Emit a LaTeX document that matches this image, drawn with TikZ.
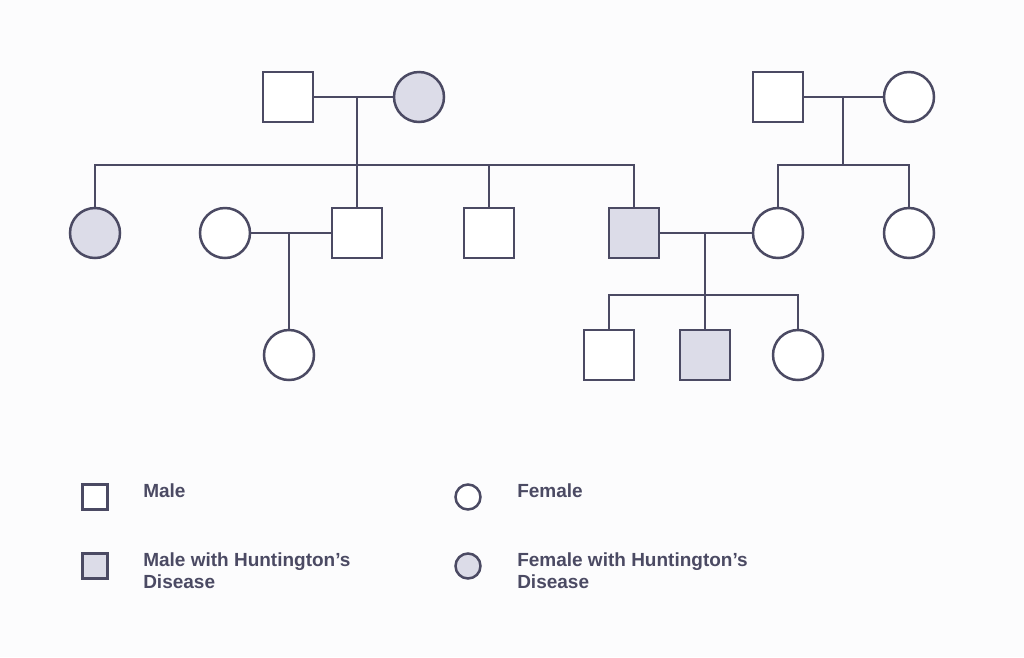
\documentclass[tikz,border=0pt]{standalone}
\usepackage{fontspec}
\setsansfont{Liberation Sans}
\usetikzlibrary{positioning}
\definecolor{ink}{HTML}{4B4A63}
\definecolor{sick}{HTML}{DCDCE8}
\definecolor{paper}{HTML}{FCFCFD}
\begin{document}
\begin{tikzpicture}[x=1pt, y=-1pt, line width=2.5pt, draw=ink,
	male/.style={draw=ink, rectangle, minimum size=50pt, inner sep=0pt, fill=white},
	female/.style={draw=ink, circle, minimum size=50pt, inner sep=0pt, fill=white},
	ill/.style={fill=sick},
	small/.style={minimum size=25pt},
	legend/.style={anchor=north west, align=left, text=ink, inner sep=0pt, font=\sffamily\bfseries\fontsize{19}{22}\selectfont},
	link/.style={draw=ink}]
	\fill[paper] (0,0) rectangle (1024,657);
	\useasboundingbox (0,0) rectangle (1024,657);

	% first generation
	\node[male] (gpa) at (288,97) {};
	\node[female, ill] (gma) at (419,97) {};
	\node[male] (rpa) at (778,97) {};
	\node[female] (rma) at (909,97) {};
	\coordinate (lm) at (357,97);
	\coordinate (rm) at (843,97);

	% second generation
	\node[female, ill] (c1) at (95,233) {};
	\node[female] (w1) at (225,233) {};
	\node[male] (c2) at (357,233) {};
	\node[male] (c3) at (489,233) {};
	\node[male, ill] (c4) at (634,233) {};
	\node[female] (w2) at (778,233) {};
	\node[female] (c5) at (909,233) {};
	\coordinate (m1) at (289,233);
	\coordinate (m2) at (705,233);

	% third generation
	\node[female] (g1) at (289,355) {};
	\node[male] (g2) at (609,355) {};
	\node[male, ill] (g3) at (705,355) {};
	\node[female] (g4) at (798,355) {};

	% couples
	\draw[link] (gpa) -- (gma);
	\draw[link] (rpa) -- (rma);
	\draw[link] (w1) -- (c2);
	\draw[link] (c4) -- (w2);

	% descent
	\draw[link] (lm) -- (357,165);
	\draw[link] (c1) -- (95,165) -- (634,165) -- (c4);
	\draw[link] (357,165) -- (c2);
	\draw[link] (489,165) -- (c3);
	\draw[link] (rm) -- (843,165);
	\draw[link] (w2) -- (778,165) -- (909,165) -- (c5);
	\draw[link] (m1) -- (g1);
	\draw[link] (m2) -- (705,295);
	\draw[link] (g2) -- (609,295) -- (798,295) -- (g4);
	\draw[link] (705,295) -- (g3);

	% legend
	\node[male, small] (km) at (95,497) {};
	\node[female, small] (kf) at (468,497) {};
	\node[male, small, ill] (kmi) at (95,566) {};
	\node[female, small, ill] (kfi) at (468,566) {};
	\node[legend] (tm) at (142,482) {Male};
	\node[legend] (tf) at (516,482) {Female};
	\node[legend] (tmi) at (142,551) {Male with Huntington’s\\Disease};
	\node[legend] (tfi) at (516,551) {Female with Huntington’s\\Disease};
\end{tikzpicture}
\end{document}
